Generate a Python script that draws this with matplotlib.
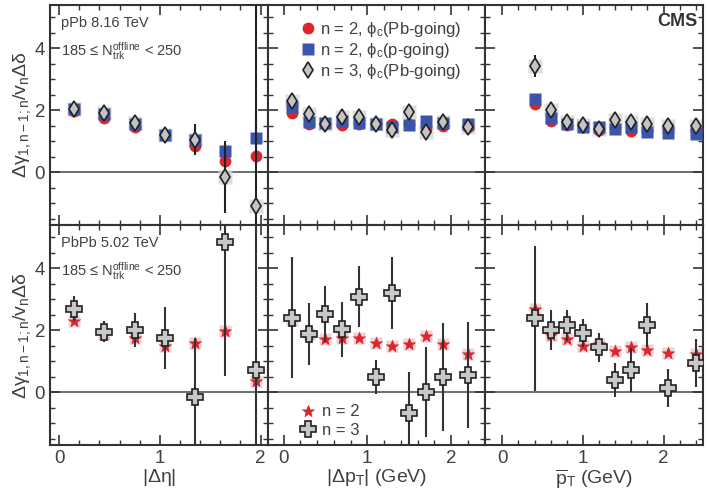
import numpy as np
import matplotlib.pyplot as plt

plt.rcParams['font.family'] = ['Liberation Sans', 'DejaVu Sans']
plt.rcParams['mathtext.fontset'] = 'custom'
plt.rcParams['mathtext.rm'] = 'Liberation Sans'
plt.rcParams['mathtext.it'] = 'Liberation Sans:italic'
plt.rcParams['mathtext.bf'] = 'Liberation Sans:bold'
plt.rcParams['mathtext.default'] = 'regular'

# ---- pPb 8.16 TeV (top row) ----
eta_x = [0.15, 0.45, 0.75, 1.05, 1.35, 1.65, 1.95]
eta_pb_n2 = [1.97, 1.75, 1.47, 1.2, 0.85, 0.35, 0.52]
eta_p_n2 = [2.05, 1.87, 1.55, 1.22, 1.05, 0.7, 1.1]
eta_p_n2_err = [0.05, 0.05, 0.05, 0.05, 0.1, 0.2, 0.75]
eta_pb_n3 = [2.05, 1.9, 1.6, 1.2, 1.05, -0.15, -1.08]
eta_pb_n3_err = [0.15, 0.2, 0.2, 0.15, 0.5, 1.15, 8.0]

dpt_x = [0.1, 0.3, 0.5, 0.7, 0.9, 1.1, 1.3, 1.5, 1.7, 1.9, 2.2]
dpt_pb_n2 = [1.92, 1.55, 1.57, 1.52, 1.57, 1.55, 1.55, 1.55, 1.42, 1.48, 1.46]
dpt_p_n2 = [2.12, 1.62, 1.59, 1.66, 1.58, 1.55, 1.47, 1.53, 1.64, 1.6, 1.57]
dpt_pb_n3 = [2.3, 1.88, 1.57, 1.77, 1.8, 1.55, 1.38, 1.95, 1.3, 1.62, 1.46]
dpt_pb_n3_err = [0.2, 0.12, 0.1, 0.1, 0.12, 0.1, 0.1, 0.12, 0.12, 0.1, 0.1]

pt_x = [0.4, 0.6, 0.8, 1.0, 1.2, 1.4, 1.6, 1.8, 2.05, 2.4]
pt_pb_n2 = [2.2, 1.66, 1.52, 1.46, 1.36, 1.42, 1.33, 1.32, 1.45, 1.35]
pt_p_n2 = [2.38, 1.74, 1.55, 1.47, 1.45, 1.41, 1.46, 1.3, 1.27, 1.25]
pt_pb_n3 = [3.43, 2.0, 1.62, 1.52, 1.4, 1.68, 1.62, 1.55, 1.48, 1.48]
pt_pb_n3_err = [0.35, 0.15, 0.12, 0.1, 0.1, 0.12, 0.12, 0.1, 0.1, 0.1]

# ---- PbPb 5.02 TeV (bottom row) ----
aa_eta_n2 = [2.3, 1.9, 1.74, 1.5, 1.6, 1.99, 0.36]
aa_eta_n3 = [2.7, 1.96, 2.0, 1.74, -0.14, 4.84, 0.72]
aa_eta_n3_err = [0.4, 0.35, 0.55, 1.0, 1.9, 4.3, 8.0]

aa_dpt_n2 = [2.33, 1.87, 1.72, 1.77, 1.74, 1.6, 1.5, 1.55, 1.83, 1.56, 1.24]
aa_dpt_n3 = [2.41, 1.9, 2.53, 2.03, 3.09, 0.5, 3.2, -0.65, 0.0, 0.5, 0.56]
aa_dpt_n3_err = [1.96, 1.0, 0.9, 0.9, 0.98, 0.55, 1.17, 1.3, 1.45, 1.75, 1.7]

aa_pt_n2 = [2.68, 1.85, 1.71, 1.5, 1.56, 1.34, 1.45, 1.37, 1.28, 1.24]
aa_pt_n3 = [2.39, 2.01, 2.17, 1.92, 1.45, 0.4, 0.72, 2.17, 0.15, 0.94]
aa_pt_n3_err = [2.33, 0.65, 0.5, 0.45, 0.48, 0.55, 0.72, 0.7, 0.62, 0.77]

red = '#e0242c'
blue = '#3b55aa'
txt = '#404040'
ylab = r'$\Delta\gamma_{1,n-1;n}/v_n\Delta\delta$'

fig = plt.figure(figsize=(7.08, 4.94), dpi=100)
gs = fig.add_gridspec(2, 3, left=0.0706, right=0.993, top=0.99, bottom=0.099,
                      wspace=0, hspace=0)
xlims = [(-0.09, 2.07), (-0.19, 2.41), (-0.21, 2.49)]

axes = []
for r in range(2):
    row = []
    for c in range(3):
        ax = fig.add_subplot(gs[r, c])
        ax.set_xticks([0, 1, 2])
        ax.set_xticks(np.arange(0, 2.5, 0.2), minor=True)
        ax.set_yticks([0, 2, 4])
        ax.set_yticks(np.arange(-1.5, 5.4, 0.5), minor=True)
        ax.set_xlim(*xlims[c])
        ax.set_ylim(-1.7, 5.4)
        ax.tick_params(which='both', direction='in', top=True, right=True,
                       labelsize=13.5, colors='#333333', labelcolor=txt)
        ax.tick_params(which='major', length=7, width=1.2)
        ax.tick_params(which='minor', length=3.5, width=1)
        ax.axhline(0, color='#555555', lw=1.2, zorder=1)
        for s in ax.spines.values():
            s.set_color('#333333')
            s.set_linewidth(1.5)
        if c > 0:
            ax.set_yticklabels([])
        else:
            ax.set_ylabel(ylab, fontsize=14, color=txt, labelpad=1)
        if r == 0:
            ax.set_xticklabels([])
        row.append(ax)
    axes.append(row)

top_sets = [
    (eta_x, eta_pb_n2, eta_p_n2, eta_p_n2_err, eta_pb_n3, eta_pb_n3_err),
    (dpt_x, dpt_pb_n2, dpt_p_n2, None, dpt_pb_n3, dpt_pb_n3_err),
    (pt_x, pt_pb_n2, pt_p_n2, None, pt_pb_n3, pt_pb_n3_err),
]
for ax, (x, a, b, berr, d, derr) in zip(axes[0], top_sets):
    ax.plot(x, d, 's', color='#d6d6d6', ms=10, mec='none', alpha=0.8, zorder=2)
    ax.plot(x, a, 'o', color=red, ms=8.5, mec='none', zorder=3,
            label=r'n = 2, $\phi_c$(Pb-going)')
    ax.errorbar(x, b, yerr=berr, fmt='s', color=blue, ms=8, mec='none',
                elinewidth=1.5, capsize=0, zorder=4,
                label=r'n = 2, $\phi_c$(p-going)')
    ax.errorbar(x, d, yerr=derr, fmt='d', color='#222222', mfc='#c4c4c4',
                mec='#222222', mew=1.2, ms=8, elinewidth=1.5, capsize=0,
                zorder=5, label=r'n = 3, $\phi_c$(Pb-going)')

bot_sets = [
    (eta_x, aa_eta_n2, aa_eta_n3, aa_eta_n3_err),
    (dpt_x, aa_dpt_n2, aa_dpt_n3, aa_dpt_n3_err),
    (pt_x, aa_pt_n2, aa_pt_n3, aa_pt_n3_err),
]
for ax, (x, s2, s3, e3) in zip(axes[1], bot_sets):
    ax.plot(x, s2, 's', color='#e6c8cc', ms=9, mec='none', alpha=0.8, zorder=2)
    ax.plot(x, s2, '*', color=red, ms=10, mec='none', zorder=3, label='n = 2')
    ax.errorbar(x, s3, yerr=e3, fmt='P', color='#333333', mfc='#c8c8c8',
                mec='#222222', mew=1.2, ms=11, elinewidth=1.5, capsize=0,
                zorder=5, label='n = 3')

axes[0][0].text(0.05, 0.95, 'pPb 8.16 TeV', transform=axes[0][0].transAxes,
                fontsize=10.5, color=txt, va='top')
axes[0][0].text(0.05, 0.84, r'185 ≤ $N_{trk}^{offline}$ < 250',
                transform=axes[0][0].transAxes, fontsize=10.5, color=txt, va='top')
axes[1][0].text(0.05, 0.95, 'PbPb 5.02 TeV', transform=axes[1][0].transAxes,
                fontsize=10.5, color=txt, va='top')
axes[1][0].text(0.05, 0.84, r'185 ≤ $N_{trk}^{offline}$ < 250',
                transform=axes[1][0].transAxes, fontsize=10.5, color=txt, va='top')
axes[0][2].text(0.975, 0.965, 'CMS', transform=axes[0][2].transAxes,
                fontsize=13, fontweight='bold', color='#333333', ha='right', va='top')

axes[0][1].legend(loc='upper left', bbox_to_anchor=(0.08, 1.0), frameon=False,
                  fontsize=12, labelcolor=txt, handletextpad=0.2,
                  labelspacing=0.12, handlelength=1.0)
h, l = axes[1][1].get_legend_handles_labels()
axes[1][1].legend(h, l, loc='lower left', bbox_to_anchor=(0.08, -0.035), frameon=False,
                  fontsize=12, labelcolor=txt, handletextpad=0.3,
                  labelspacing=0.2, handlelength=1.0)

axes[1][0].set_xlabel(r'|$\Delta\eta$|', fontsize=14, color=txt, labelpad=0)
axes[1][1].set_xlabel(r'|$\Delta p_T$| (GeV)', fontsize=14, color=txt, labelpad=0)
axes[1][2].set_xlabel(r'$\overline{p}_T$ (GeV)', fontsize=14, color=txt, labelpad=0)

fig.savefig('out.png', dpi=100)
